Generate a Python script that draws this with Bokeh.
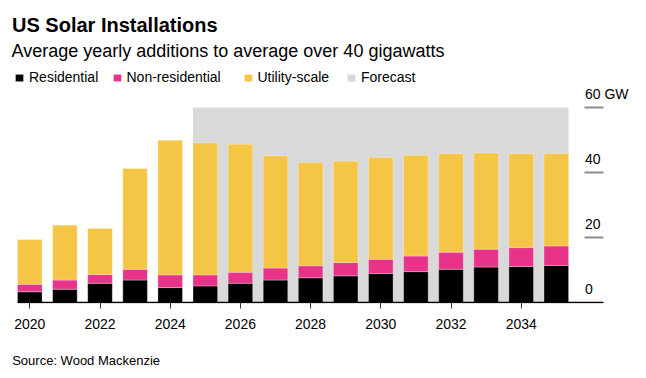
from bokeh.plotting import figure
from bokeh.models import (ColumnDataSource, Range1d, FixedTicker, Label, Legend, LegendItem, Title)
from bokeh.core.properties import value
from bokeh.embed import file_html
from bokeh.resources import INLINE

# ---- data (GW) ----
years = list(range(2020, 2036))
residential = [3.3, 4.1, 5.9, 6.9, 4.6, 5.1, 5.9, 6.9, 7.6, 8.2, 8.9, 9.5, 10.2, 10.9, 11.1, 11.4]
non_residential = [2.3, 2.8, 2.7, 3.3, 3.9, 3.4, 3.4, 3.7, 3.7, 4.1, 4.4, 4.8, 5.3, 5.5, 5.8, 6.0]
utility_scale = [13.8, 16.9, 14.2, 31.0, 41.4, 40.6, 39.4, 34.5, 31.8, 31.2, 31.3, 30.9, 30.3, 29.6, 28.9, 28.4]
forecast_start = 2025
forecast_end = 2035
x_ticks = [2020, 2022, 2024, 2026, 2028, 2030, 2032, 2034]
y_ticks = [0, 20, 40, 60]
y_unit = "GW"
series_names = ["Residential", "Non-residential", "Utility-scale"]
series_colors = ["#000000", "#E8338B", "#F5C545"]
forecast_color = "#D9D9D9"

# ---- style / layout constants ----
FONT = "Liberation Sans"
BAR_W = 0.7
W, H = 646, 378
BB = 75                      # bottom border (x axis + source)
FRAME_H = H - BB
PX_PER_YEAR = 35.1
PX_PER_GW = 3.25
FIRST_CENTER_PX = 29.3       # screen x of first year centre
AXIS_RIGHT_PX = 603
TICK_LEN_PX = 19
LEGEND_X_PX = [14, 111.5, 242.5, 346]

x_start = years[0] - FIRST_CENTER_PX / PX_PER_YEAR
x_end = x_start + W / PX_PER_YEAR
y_start = -1.0 / PX_PER_GW
y_end = y_start + FRAME_H / PX_PER_GW
axis_right = x_start + AXIS_RIGHT_PX / PX_PER_YEAR
tick_left = axis_right - TICK_LEN_PX / PX_PER_YEAR

p = figure(width=W, height=H, output_backend="svg", toolbar_location=None,
           x_range=Range1d(x_start, x_end), y_range=Range1d(y_start, y_end),
           y_axis_location=None,
           min_border_left=0, min_border_right=0, min_border_top=0, min_border_bottom=BB)
p.outline_line_color = None
p.xgrid.visible = False
p.ygrid.visible = False
p.background_fill_color = "white"
p.border_fill_color = "white"

# forecast shading
fc = p.quad(left=[forecast_start - BAR_W / 2], right=[forecast_end + BAR_W / 2],
            bottom=[0], top=[y_ticks[-1]], fill_color=forecast_color, line_color=None)

src = ColumnDataSource(dict(year=years, res=residential, nonres=non_residential, util=utility_scale))
rs = p.vbar_stack(["res", "nonres", "util"], x="year", width=BAR_W, source=src,
                  fill_color=series_colors, line_color="white", line_alpha=0.3, line_width=1)

# y ticks: short grey lines + labels above them
p.segment(x0=[tick_left] * (len(y_ticks) - 1), x1=[axis_right] * (len(y_ticks) - 1),
          y0=y_ticks[1:], y1=y_ticks[1:], line_color="#8C8C8C", line_width=2)
ylabels = [str(t) + (" " + y_unit if i == len(y_ticks) - 1 else "") for i, t in enumerate(y_ticks)]
p.text(x=[tick_left] * len(y_ticks), y=y_ticks, text=ylabels, x_offset=0.5, y_offset=-13.5,
       text_align="left", text_baseline="middle", text_font=value(FONT),
       text_font_size="14px", text_color="#000000")

# baseline
p.segment(x0=[years[0] - BAR_W / 2], x1=[axis_right], y0=[0], y1=[0],
          line_color="#000000", line_width=1.5)

# x axis
xa = p.xaxis[0]
xa.ticker = FixedTicker(ticks=x_ticks)
xa.axis_line_color = None
xa.major_tick_in = 1
xa.major_tick_out = 5
xa.major_tick_line_color = "#333333"
xa.major_tick_line_width = 1
xa.minor_tick_line_color = None
xa.major_label_standoff = 10
xa.major_label_text_font = FONT
xa.major_label_text_font_size = "14px"
xa.major_label_text_color = "#000000"

# legend (one entry per legend box so each sits where the reference has it)
legend_labels = series_names + ["Forecast"]
legend_renderers = list(rs) + [fc]
for lx, lab, rend in zip(LEGEND_X_PX, legend_labels, legend_renderers):
    lg = Legend(items=[LegendItem(label=lab, renderers=[rend])],
                orientation="horizontal", location=(lx, 218), padding=0, margin=0,
                spacing=0, glyph_width=10, glyph_height=9, label_standoff=5,
                label_height=10, label_text_font=FONT, label_text_font_size="14px",
                label_text_color="#000000", border_line_color=None,
                background_fill_alpha=0)
    p.add_layout(lg, "center")

# titles
p.add_layout(Label(x=11.5, y=278.5, x_units="screen", y_units="screen",
                   text="US Solar Installations", text_font=FONT, text_font_size="20px",
                   text_font_style="bold", text_color="#000000", text_baseline="middle"))
p.add_layout(Label(x=11, y=252.5, x_units="screen", y_units="screen",
                   text="Average yearly additions to average over 40 gigawatts",
                   text_font=FONT, text_font_size="18px", text_color="#000000",
                   text_baseline="middle"))

# source
p.add_layout(Title(text="Source: Wood Mackenzie", align="left", offset=11.7,
                   text_font=FONT, text_font_size="13px", text_font_style="normal",
                   text_color="#000000", standoff=11, padding=(0, 0, 14, 0)), "below")

open("out.html", "w").write(file_html(p, INLINE))
